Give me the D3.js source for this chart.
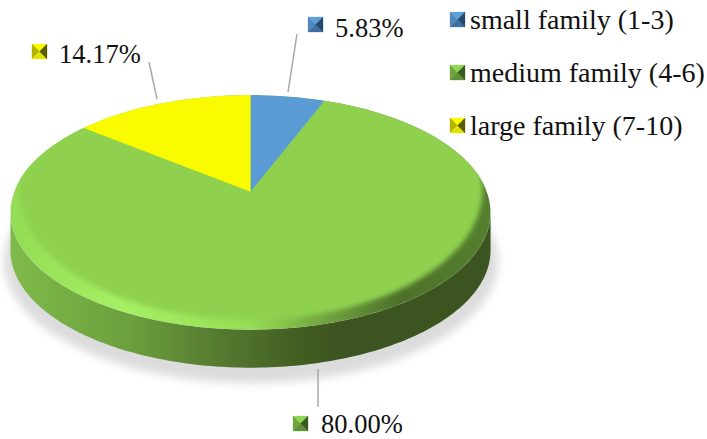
<!DOCTYPE html>
<html><head><meta charset="utf-8">
<script src="https://cdnjs.cloudflare.com/ajax/libs/d3/7.8.5/d3.min.js"></script>
<style>html,body{margin:0;padding:0;background:#fff}svg{display:block}text{font-family:"Liberation Serif","Times New Roman",serif;fill:#111}</style>
</head><body><svg id="c" width="707" height="439"></svg>
<script>
const categories = ["small family (1-3)", "medium family (4-6)", "large family (7-10)"];
const values = [5.83, 80.00, 14.17];
const valueLabels = ["5.83%", "80.00%", "14.17%"];
const colors = ["#5b9bd5", "#8fd14f", "#fbfb00"];
const markerShades = [
  {top:"#5f9fd8", left:"#4f88bd", bottom:"#3f6f9e", right:"#234a6e"},
  {top:"#92d655", left:"#6fa53e", bottom:"#5f9035", right:"#3a5a1e"},
  {top:"#fbfb00", left:"#b3b300", bottom:"#e3e300", right:"#5c5c00"}
];
const legendRows = [12, 65, 118];
const labelBoxes = [[308,17],[293,416],[32,44]];
const labelTextPos = [[335,37],[321,433],[59,63]];
const leaders = [[[297,34],[288,92]],[[318,369],[318,407]],[[149,62],[157,99]]];

const svg = d3.select("#c");
const defs = svg.append("defs");
const apexX = 250.5, apexY = 191.7, a = 236.3, b = 113.7, k = 0.176, depth = 38;
const project = (t, dy=0, sx=1) => {
  const u = Math.sin(t), v = Math.cos(t), w = 1 + k*v;
  return [apexX + sx*a*u/w, apexY - b*v/w + dy];
};
const range = (t0,t1,n=160) => d3.range(n+1).map(i => t0 + (t1-t0)*i/n);
const line = d3.line();
const pie = d3.pie().sort(null).value(d=>d)(values);

const grad = (id, stops) => {
  const g = defs.append("linearGradient").attr("id",id).attr("gradientUnits","userSpaceOnUse")
    .attr("x1",10).attr("x2",490).attr("y1",0).attr("y2",0);
  stops.forEach(([x,c]) => g.append("stop").attr("offset",(x-10)/480).attr("stop-color",c));
};
grad("side", [[10,"#7fbb4a"],[130,"#6c9f3d"],[220,"#557a30"],[300,"#425e22"],[345,"#3c5420"],[490,"#3c5420"]]);
grad("rim", [[10,"#93dc55"],[120,"#a6f064"],[250,"#97de55"],[330,"#6f9f3e"],[400,"#4d7029"],[490,"#55802e"]]);
const blur = (id,s) => defs.append("filter").attr("id",id).attr("x","-10%").attr("y","-10%").attr("width","120%").attr("height","120%")
  .append("feGaussianBlur").attr("stdDeviation",s);
blur("b1",2.6); blur("b2",4);
defs.append("clipPath").attr("id","disc").append("ellipse").attr("cx",250.5).attr("cy",212.3).attr("rx",240).attr("ry",117.4);

// drop shadow
svg.append("ellipse").attr("cx",251).attr("cy",261).attr("rx",247).attr("ry",122).attr("fill","#dcdcdc").attr("filter","url(#b2)");

// outer wall of the largest slice
const e = Math.acos(-k);
const lower = range(e, 2*Math.PI-e);
const wall = lower.map(t=>project(t)).concat(lower.slice().reverse().map(t=>project(t,depth)));
svg.append("path").attr("d",line(wall)+"Z").attr("fill","url(#side)");

const slicePath = d => line([[apexX,apexY]].concat(range(d.startAngle,d.endAngle).map(t=>project(t,0,1.02))))+"Z";
const face = svg.append("g").attr("clip-path","url(#disc)");
// bevelled rim, flat face, then the two other slices on top
face.append("path").attr("d",slicePath(pie[1])).attr("fill","url(#rim)");
face.append("ellipse")
  .attr("cx",250.5).attr("cy",190).attr("rx",232).attr("ry",130).attr("fill",colors[1]).attr("filter","url(#b1)");
[0,2].forEach(i => face.append("path").attr("d",slicePath(pie[i])).attr("fill",colors[i]));

// leader lines
leaders.forEach(p => svg.append("path").attr("d",line(p)).attr("stroke","#a9a9a9").attr("stroke-width",1.5).attr("fill","none"));

// pyramid markers
const marker = (x,y,i,s=15) => {
  const g = svg.append("g").attr("transform",`translate(${x},${y})`), m = markerShades[i], h = s/2;
  const tri = (p,c) => g.append("path").attr("d",line(p)+"Z").attr("fill",c).attr("stroke",c).attr("stroke-width",.3);
  tri([[0,0],[s,0],[h,h]], m.top);
  tri([[0,0],[0,s],[h,h]], m.left);
  tri([[0,s],[s,s],[h,h]], m.bottom);
  tri([[s,0],[s,s],[h,h]], m.right);
};
categories.forEach((c,i)=>{
  marker(450,legendRows[i],i);
  svg.append("text").attr("x",470).attr("y",legendRows[i]+17).attr("font-size",28).text(c);
});
valueLabels.forEach((l,i)=>{
  marker(labelBoxes[i][0],labelBoxes[i][1],i);
  svg.append("text").attr("x",labelTextPos[i][0]).attr("y",labelTextPos[i][1]).attr("font-size",26.5).text(l);
});
</script></body></html>
